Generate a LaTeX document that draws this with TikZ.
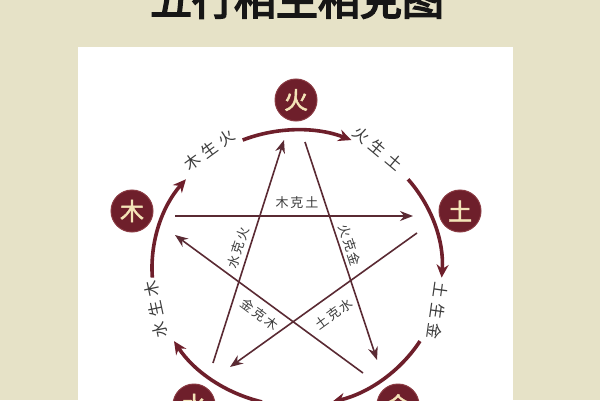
\documentclass[tikz,border=0pt]{standalone}
\usepackage{fontspec}
\newfontfamily\cjk{Noto Sans CJK SC}
\newfontfamily\cjkbold[FakeBold=2]{Noto Sans CJK SC}
\newfontfamily\cjktitle[FakeBold=4]{Noto Sans CJK SC}
\usetikzlibrary{arrows.meta}
\definecolor{bgbeige}{HTML}{E6E2C7}
\definecolor{wxred}{HTML}{6E1F2B}
\definecolor{wxredlight}{HTML}{8A3A42}
\definecolor{starline}{HTML}{5A2A33}
\definecolor{elemtext}{HTML}{F4E4B8}
\definecolor{labtext}{HTML}{3C3C3C}
\definecolor{titleblack}{HTML}{161616}
\begin{document}
\begin{tikzpicture}[x=1pt,y=1pt,
  elem/.style={circle, fill=wxred, draw=wxredlight, line width=1pt, minimum size=42pt, inner sep=0pt, text=elemtext, font=\cjkbold\fontsize{24}{24}\selectfont},
  shengarc/.style={draw=wxred, line width=3.6pt, -{Stealth[length=13pt,width=12pt]}},
  keline/.style={draw=starline, line width=1.6pt, -{Stealth[length=13pt,width=10pt]}},
  shenglab/.style={text=labtext, font=\cjk\fontsize{16}{16}\selectfont, inner sep=0pt},
  kelab/.style={text=labtext, font=\cjk\fontsize{13}{13}\selectfont, inner sep=0pt}]
\useasboundingbox (0,0) rectangle (600,400);
\clip (0,0) rectangle (600,400);
\fill[bgbeige] (0,0) rectangle (600,400);
\fill[white] (78,-5) rectangle (513,353);
\node[anchor=base, font=\cjktitle\fontsize{42}{42}\selectfont, text=titleblack] (title) at (297,385) {五行相生相克图};
% sheng cycle arcs
\coordinate (O) at (297,132);
\foreach \p in {90,18,-54,-126,-198}{
  \pgfmathsetmacro{\sa}{\p+22}
  \pgfmathsetmacro{\ea}{\p-22}
  \draw[shengarc] (O) ++(\sa:145 and 138) arc[start angle=\sa, end angle=\ea, x radius=145, y radius=138];
}
% elements
\node[elem] (huo) at (296,300) {火};
\node[elem] (tu) at (460,189) {土};
\node[elem] (mu) at (132,189) {木};
\node[elem] (jin) at (398,-5) {金};
\node[elem] (shui) at (194,-5) {水};
% sheng labels
\node[shenglab, rotate=-40] (l1) at (378,252) {火\hspace{5pt}生\hspace{5pt}土};
\node[shenglab, rotate=-98] (l2) at (438,89) {土\hspace{5pt}生\hspace{5pt}金};
\node[shenglab, rotate=180] (l3) at (297,-13) {金\hspace{5pt}生\hspace{5pt}水};
\node[shenglab, rotate=102] (l4) at (156,91) {水\hspace{5pt}生\hspace{5pt}木};
\node[shenglab, rotate=36] (l5) at (209,250) {木\hspace{5pt}生\hspace{5pt}火};
% ke cycle
\coordinate (k1s) at (175,184); \coordinate (k1e) at (413,184);
\coordinate (k2s) at (417,167); \coordinate (k2e) at (230,33);
\coordinate (k3s) at (213,37);  \coordinate (k3e) at (284,260);
\coordinate (k4s) at (305,258); \coordinate (k4e) at (377,40);
\coordinate (k5s) at (363,27);  \coordinate (k5e) at (175,165);
\draw[keline] (k1s) -- (k1e);
\draw[keline] (k2s) -- (k2e);
\draw[keline] (k3s) -- (k3e);
\draw[keline] (k4s) -- (k4e);
\draw[keline] (k5s) -- (k5e);
% ke labels
\node[kelab] (m1) at (297,197) {木\hspace{2pt}克\hspace{2pt}土};
\node[kelab, rotate=72] (m2) at (238,152) {水\hspace{2pt}克\hspace{2pt}火};
\node[kelab, rotate=-72] (m3) at (350,155) {火\hspace{2pt}克\hspace{2pt}金};
\node[kelab, rotate=36] (m4) at (334,86) {土\hspace{2pt}克\hspace{2pt}水};
\node[kelab, rotate=-37] (m5) at (260,86) {金\hspace{2pt}克\hspace{2pt}木};
\end{tikzpicture}
\end{document}
